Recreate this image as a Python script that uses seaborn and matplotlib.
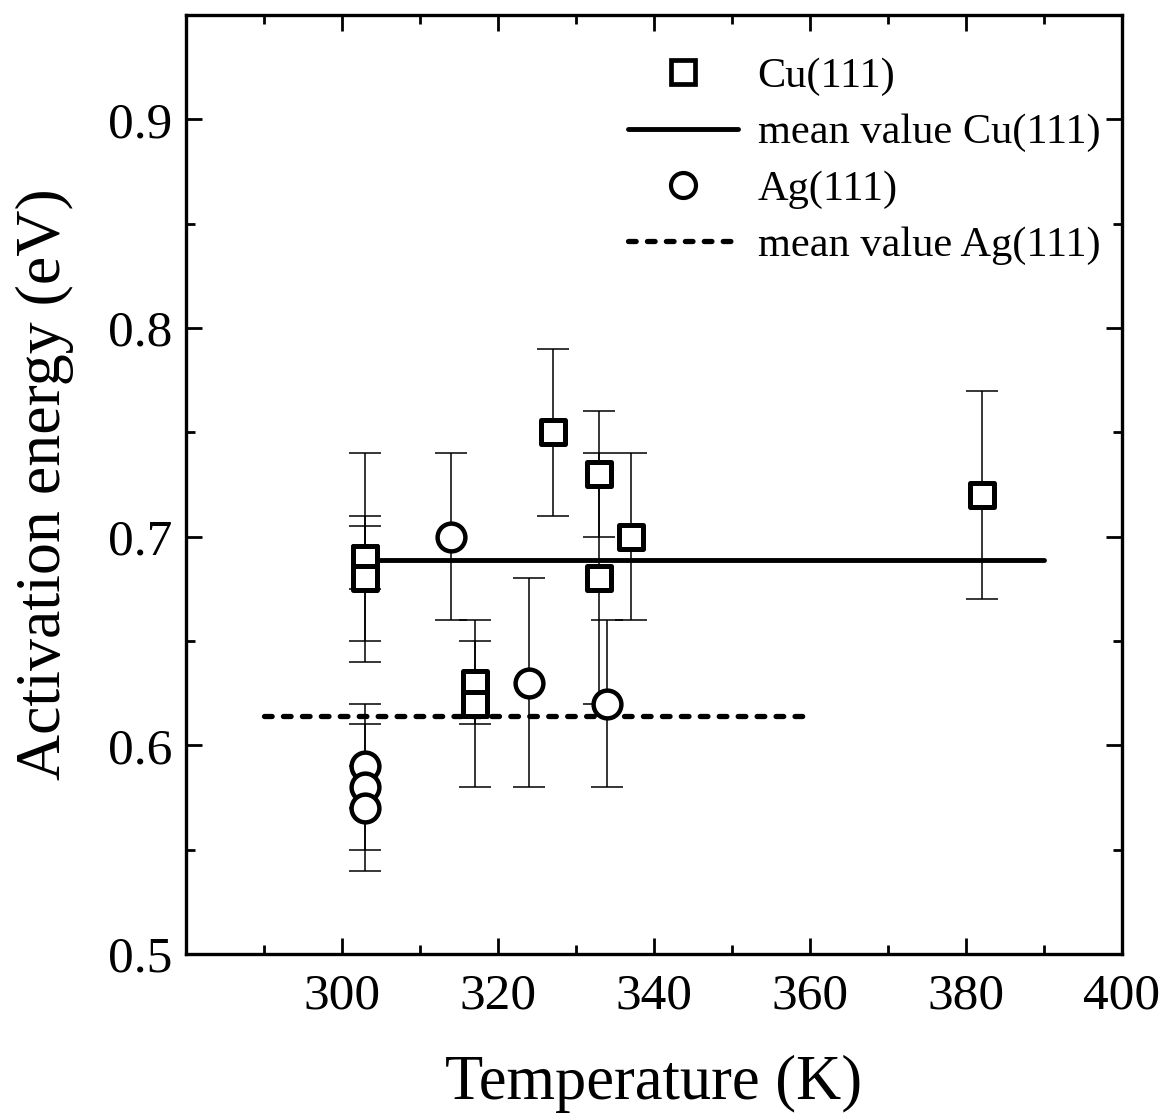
import matplotlib
matplotlib.use("Agg")
import matplotlib.pyplot as plt
import seaborn as sns
import pandas as pd
from matplotlib.ticker import MultipleLocator
from matplotlib.lines import Line2D

# ---- data ----
cu_T = [303, 303, 303, 317, 317, 327, 333, 333, 337, 382]
cu_E = [0.69, 0.69, 0.68, 0.63, 0.62, 0.75, 0.73, 0.68, 0.70, 0.72]
cu_err_lo = [0.015, 0.05, 0.03, 0.02, 0.04, 0.04, 0.03, 0.06, 0.04, 0.05]
cu_err_hi = [0.015, 0.05, 0.03, 0.02, 0.04, 0.04, 0.03, 0.06, 0.04, 0.05]

ag_T = [303, 303, 303, 314, 324, 334]
ag_E = [0.59, 0.58, 0.57, 0.70, 0.63, 0.62]
ag_err_lo = [0.04, 0.01, 0.03, 0.04, 0.05, 0.04]
ag_err_hi = [0.03, 0.01, 0.04, 0.04, 0.05, 0.04]

cu_mean_T = [303, 390]
cu_mean_E = [0.689, 0.689]
ag_mean_T = [290, 360]
ag_mean_E = [0.614, 0.614]

x_ticks = [300, 320, 340, 360, 380, 400]
y_ticks = [0.5, 0.6, 0.7, 0.8, 0.9]
legend_labels = ["Cu(111)", "mean value Cu(111)", "Ag(111)", "mean value Ag(111)"]

# ---- style ----
sns.set_theme(style="ticks")
plt.rcParams['font.family'] = ['Liberation Serif', 'DejaVu Serif']
for k in ['text.color', 'axes.labelcolor', 'xtick.color', 'ytick.color', 'axes.edgecolor']:
    plt.rcParams[k] = 'black'

fig = plt.figure(figsize=(11.65, 11.15), dpi=100)
ax = fig.add_axes([0.1597, 0.1444, 0.8034, 0.8422])

cu_df = pd.DataFrame({"T": cu_T, "E": cu_E})
ag_df = pd.DataFrame({"T": ag_T, "E": ag_E})

# error bars
ax.errorbar(cu_T, cu_E, yerr=[cu_err_lo, cu_err_hi], fmt='none', ecolor='black',
            elinewidth=1.1, capsize=11.5, capthick=1.1, zorder=1)
ax.errorbar(ag_T, ag_E, yerr=[ag_err_lo, ag_err_hi], fmt='none', ecolor='black',
            elinewidth=1.1, capsize=11.5, capthick=1.1, zorder=1)

# mean lines
sns.lineplot(x=cu_mean_T, y=cu_mean_E, ax=ax, color='black', linewidth=3.5, zorder=2)
sns.lineplot(x=ag_mean_T, y=ag_mean_E, ax=ax, color='black', linewidth=3.8, zorder=2)
ax.lines[-1].set_dashes((1.45, 2.14))
ax.lines[-1].set_dash_capstyle('round')

# markers
sns.scatterplot(data=cu_df, x="T", y="E", ax=ax, marker='s', s=17.5**2,
                facecolor='white', edgecolor='black', linewidth=3.6, zorder=3)
sns.scatterplot(data=ag_df, x="T", y="E", ax=ax, marker='o', s=20**2,
                facecolor='white', edgecolor='black', linewidth=3.2, zorder=3)

ax.set_xlim(280, 400)
ax.set_ylim(0.5, 0.95)
ax.xaxis.set_minor_locator(MultipleLocator(10))
ax.yaxis.set_minor_locator(MultipleLocator(0.05))
ax.set_xticks(x_ticks)
ax.set_xticklabels([str(t) for t in x_ticks])
ax.set_yticks(y_ticks)
ax.set_yticklabels([f"{t:.1f}" for t in y_ticks])

for s in ax.spines.values():
    s.set_visible(True)
    s.set_linewidth(2.4)
    s.set_color('black')

ax.tick_params(which='both', direction='in', top=True, right=True, color='black', width=2.0)
ax.tick_params(which='major', length=11.5, labelsize=37, pad=14)
ax.tick_params(which='minor', length=6.2)
ax.tick_params(axis='y', which='major', pad=10)

ax.set_xlabel("Temperature (K)", fontsize=45, labelpad=25)
ax.set_ylabel("Activation energy (eV)", fontsize=46, labelpad=24)

handles = [
    Line2D([], [], marker='s', linestyle='none', markersize=17.5, markerfacecolor='white',
           markeredgecolor='black', markeredgewidth=3.4),
    Line2D([], [], color='black', linewidth=3.5),
    Line2D([], [], marker='o', linestyle='none', markersize=18, markerfacecolor='white',
           markeredgecolor='black', markeredgewidth=3.0),
    Line2D([], [], color='black', linewidth=3.8, dashes=(1.45, 2.14), dash_capstyle='round'),
]
leg = ax.legend(handles, legend_labels, loc='upper left', bbox_to_anchor=(0.4722, 0.955),
                frameon=False, fontsize=30.5, handlelength=2.6, handletextpad=0.46,
                labelspacing=0.42, borderaxespad=0.0, borderpad=0.0)

fig.savefig("out.png", dpi=100)
